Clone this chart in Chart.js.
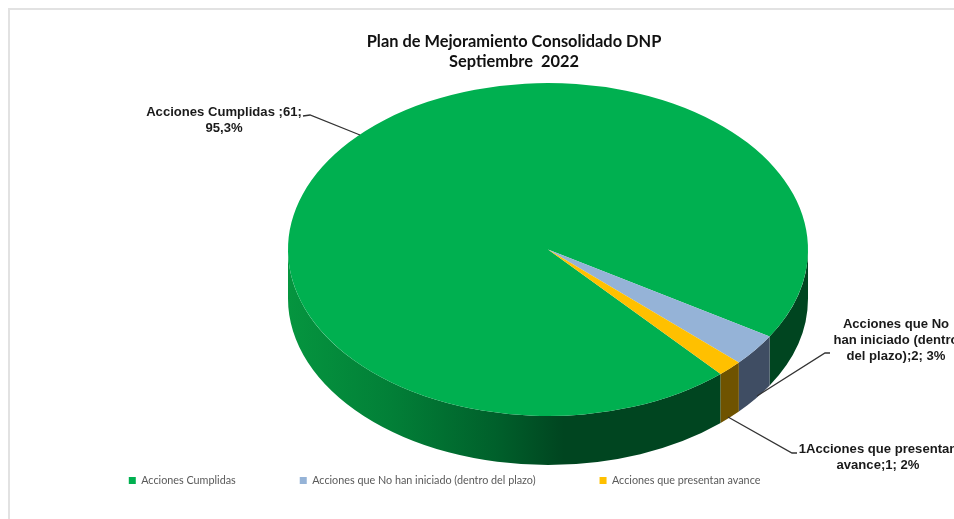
<!DOCTYPE html>
<html>
<head>
<meta charset="utf-8">
<style>
  html, body { margin: 0; padding: 0; background: #fff; overflow: hidden; }
  #frame { position: absolute; left: 8px; top: 8px; right: 0; bottom: 0; border-left: 2px solid #e2e2e2; border-top: 2px solid #e2e2e2; }
  #wrap { position: absolute; left: 0; top: 0; width: 954px; height: 519px; }
</style>
<script src="https://cdn.jsdelivr.net/npm/chart.js@4/dist/chart.umd.min.js"></script>
</head>
<body>
<div id="frame"></div>
<div id="wrap"><canvas id="pie" width="954" height="519"></canvas></div>
<script>
// data
const categories = ['Acciones Cumplidas', 'Acciones que No han iniciado (dentro del plazo)', 'Acciones que presentan avance'];
const actionCounts = [61, 2, 1];
const topColors = ['#00b050', '#95b3d7', '#ffc000'];
const titleLines = ['Plan de Mejoramiento Consolidado DNP', 'Septiembre  2022'];
const calloutTexts = [
    ['Acciones Cumplidas ;61;', '95,3%'],
    ['Acciones que No', 'han iniciado (dentro', 'del plazo);2; 3%'],
    ['1Acciones que presentan', 'avance;1; 2%']
];

const CX = 548, CY = 249.5, RX = 260, RY = 166.5, DEPTH = 49;
const TILT = RY / RX;
const LEGEND_GAP = 64;

function wallPaint(ctx, index) {
    if (index === 1) return '#3f4d63';
    if (index === 2) return '#6f5300';
    const g = ctx.createLinearGradient(CX - RX, 0, CX + RX, 0);
    g.addColorStop(0, '#05953f');
    g.addColorStop(0.2, '#027f37');
    g.addColorStop(0.4, '#00602b');
    g.addColorStop(0.53, '#004520');
    g.addColorStop(1, '#004520');
    return g;
}

// the wall of the pie, taken from the angles of the arcs chart.js computed
function drawWall(chart) {
    const ctx = chart.ctx;
    chart.getDatasetMeta(0).data.forEach((arc, i) => {
        const ranges = [[arc.startAngle, arc.endAngle], [arc.startAngle - 2 * Math.PI, arc.endAngle - 2 * Math.PI]];
        ranges.forEach(([a, b]) => {
            const from = Math.max(a, 0), to = Math.min(b, Math.PI);
            if (to <= from) return;
            ctx.beginPath();
            ctx.ellipse(CX, CY, RX, RY, 0, from, to);
            ctx.ellipse(CX, CY + DEPTH, RX, RY, 0, to, from, true);
            ctx.closePath();
            ctx.fillStyle = wallPaint(ctx, i);
            ctx.fill();
        });
    });
}

function drawCallouts(chart) {
    const ctx = chart.ctx;
    const lines = [
        [[303, 116], [310, 115], [360, 135]],
        [[757, 396], [825, 353], [830, 353]],
        [[728, 417], [792, 453], [797, 453]]
    ];
    const anchors = [[224, 112], [896, 324], [878, 449]];
    ctx.save();
    ctx.strokeStyle = '#333';
    ctx.lineWidth = 1.3;
    lines.forEach(pts => {
        ctx.beginPath();
        pts.forEach(([x, y], i) => i ? ctx.lineTo(x, y) : ctx.moveTo(x, y));
        ctx.stroke();
    });
    ctx.fillStyle = '#1a1a1a';
    ctx.font = 'bold 13.1px "Liberation Sans"';
    ctx.textAlign = 'center';
    ctx.textBaseline = 'middle';
    calloutTexts.forEach((rows, i) => {
        rows.forEach((row, j) => ctx.fillText(row, anchors[i][0], anchors[i][1] + j * 16));
    });
    ctx.restore();
}

const piePlugin = {
    id: 'tiltedPie',
    afterLayout(chart) {
        // fix the plot box, then put title and legend where the reference has them
        const a = chart.chartArea;
        a.left = CX - RX; a.right = CX + RX; a.top = CY - RX; a.bottom = CY + RX;
        a.width = 2 * RX; a.height = 2 * RX;
        const t = chart.titleBlock, l = chart.legend;
        const th = t.height;
        t.left = 514 - t.width / 2; t.right = 514 + t.width / 2; t.top = 32; t.bottom = 32 + th;
        const lh = l.bottom - l.top;
        l.left = 444.6 - l.width / 2; l.right = 444.6 + l.width / 2;
        l.top = 475 - LEGEND_GAP; l.bottom = l.top + lh;
    },
    beforeDatasetsDraw(chart) {
        const ctx = chart.ctx;
        drawWall(chart);
        ctx.save();
        ctx.translate(0, CY);
        ctx.scale(1, TILT);
        ctx.translate(0, -CY);
    },
    afterDatasetsDraw(chart) {
        chart.ctx.restore();
        drawCallouts(chart);
    }
};

new Chart(document.getElementById('pie'), {
    type: 'pie',
    data: {
        labels: categories,
        datasets: [{ data: actionCounts, backgroundColor: topColors, borderWidth: 0, radius: RX }]
    },
    options: {
        responsive: false,
        animation: false,
        rotation: 138.4,
        plugins: {
            tooltip: { enabled: false },
            title: {
                display: true,
                text: titleLines,
                color: '#111',
                font: { family: 'Lato', size: 16.4, weight: 'bold', lineHeight: 1.22 },
                padding: 0
            },
            legend: {
                position: 'bottom',
                labels: {
                    usePointStyle: true,
                    pointStyle: 'rect',
                    boxWidth: 7,
                    boxHeight: 7,
                    padding: LEGEND_GAP,
                    color: '#595959',
                    font: { family: 'Lato', size: 10.8 }
                }
            }
        }
    },
    plugins: [piePlugin]
});
</script>
</body>
</html>
